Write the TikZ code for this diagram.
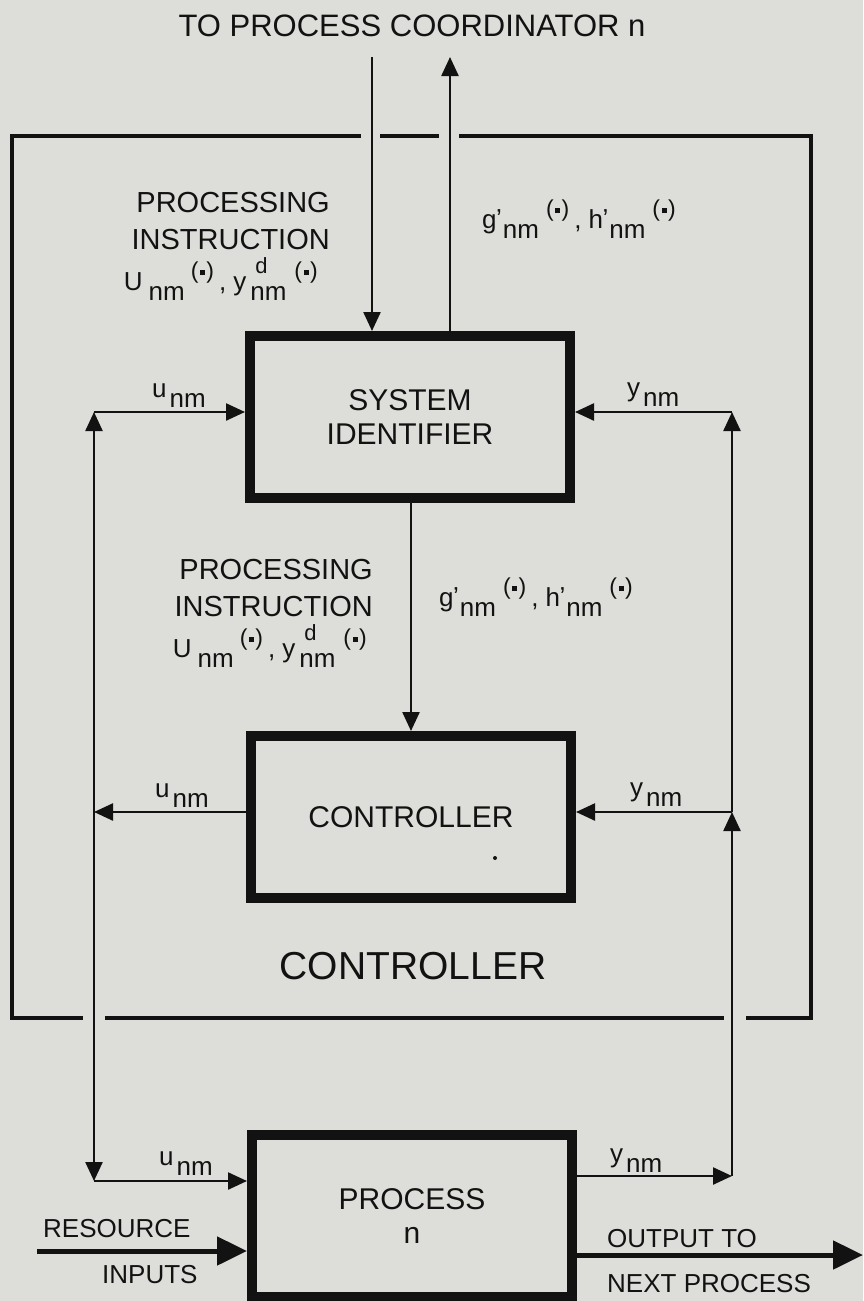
\documentclass[tikz,border=0pt]{standalone}
\usepackage{fontspec}
\setmainfont{Liberation Sans}
\usetikzlibrary{arrows.meta, positioning, calc}
\definecolor{papel}{RGB}{221,222,217}
\definecolor{tinta}{RGB}{18,18,18}

\newcommand{\bajo}[2][3pt]{\kern#1\raisebox{-10pt}{#2}}
\newcommand{\pto}[1][6pt]{\kern#1\smash{\raisebox{12pt}{\fontsize{23pt}{23pt}\selectfont(\kern1.5pt\rule[2.8pt]{5pt}{5pt}\kern1.5pt)}}}
\newcommand{\dsup}{\kern4pt\makebox[0pt][l]{\kern5pt\smash{\raisebox{17pt}{\fontsize{22pt}{22pt}\selectfont d}}}\raisebox{-10pt}{nm}}
\newcommand{\prima}{\kern-0.5pt\smash{\raisebox{1pt}{\textquoteright}}}
\newcommand{\coma}{\kern5pt,\kern7pt}

\begin{document}
\begin{tikzpicture}[x=1pt, y=-1pt,
    bloque/.style={
        rectangle,
        draw=tinta,
        line width=10pt,
        minimum width=320pt,
        minimum height=162pt,
        align=center,
        text=tinta,
        font=\fontsize{30pt}{34pt}\selectfont
    },
    flecha/.style={draw=tinta, line width=2.4pt, -{Triangle[length=19pt,width=17pt]}},
    gruesa/.style={draw=tinta, line width=5pt, -{Triangle[length=30pt,width=28pt]}},
    marco/.style={draw=tinta, line width=4pt},
    etiq/.style={inner sep=0pt, text=tinta, font=\fontsize{29pt}{34pt}\selectfont},
    senal/.style={inner sep=0pt, text=tinta, font=\fontsize{26pt}{28pt}\selectfont},
    pie/.style={inner sep=0pt, text=tinta, font=\fontsize{26pt}{30pt}\selectfont}
]
    \fill[papel] (0,0) rectangle (863,1301);
    \useasboundingbox (0,0) rectangle (863,1301);

    % bloques
    \node[bloque] (si) at (410,417) {SYSTEM\\IDENTIFIER};
    \node[bloque] (ctl) at (411,817) {CONTROLLER};
    \node[bloque] (proc) at (412,1216) {PROCESS\\n};
    \fill[tinta] (495,858) circle (2pt);

    % marco del controlador
    \draw[marco] (361,136) -- (12,136) -- (12,1018) -- (83,1018);
    \draw[marco] (380,136) -- (439,136);
    \draw[marco] (459,136) -- (811,136) -- (811,1018) -- (746,1018);
    \draw[marco] (105,1018) -- (724,1018);
    \node[inner sep=0pt, text=tinta, font=\fontsize{39pt}{44pt}\selectfont, anchor=base] (rotulo) at (413,979) {CONTROLLER};

    % coordinador
    \node[etiq, font=\fontsize{31pt}{34pt}\selectfont, anchor=base] (titulo) at (412,36) {TO PROCESS COORDINATOR n};
    \coordinate (bajada) at (372,57);
    \coordinate (subida) at (450,57);
    \draw[flecha] (bajada) -- (bajada |- si.north);
    \draw[flecha] (subida |- si.north) -- (subida);

    \node[etiq, anchor=base east] (pi1) at (330,212) {PROCESSING};
    \node[etiq, anchor=base east] (pi2) at (330,249) {INSTRUCTION};
    \node[senal, anchor=base east] (pi3) at (318,290) {U\bajo[6pt]{nm}\pto\coma y\dsup\pto[8pt]};
    \node[senal, anchor=base west] (gh1) at (482,228) {g\prima\bajo[1pt]{nm}\pto[7pt]\coma h\prima\bajo[1pt]{nm}\pto[7pt]};

    % entre identificador y controlador
    \draw[flecha] (ctl.north |- si.south) -- (ctl.north);
    \node[etiq, anchor=base east] (pc1) at (373,579) {PROCESSING};
    \node[etiq, anchor=base east] (pc2) at (373,616) {INSTRUCTION};
    \node[senal, anchor=base east] (pc3) at (367,657) {U\bajo[6pt]{nm}\pto\coma y\dsup\pto[8pt]};
    \node[senal, anchor=base west] (gh2) at (439,606) {g\prima\bajo[1pt]{nm}\pto[7pt]\coma h\prima\bajo[1pt]{nm}\pto[7pt]};

    % lazo u
    \coordinate (ua) at (94,412);
    \coordinate (ub) at (94,812);
    \coordinate (uc) at (94,1181);
    \draw[flecha] (ub -| ctl.west) -- (ub);
    \draw[flecha] (ub) -- (ua);
    \draw[flecha] (ua) -- (ua -| si.west);
    \draw[flecha] (ub) -- (uc);
    \draw[flecha] (uc) -- (uc -| proc.west);
    \node[senal, anchor=base west] (u1) at (152,397) {u\bajo{nm}};
    \node[senal, anchor=base west] (u2) at (155,797) {u\bajo{nm}};
    \node[senal, anchor=base west] (u3) at (159,1165) {u\bajo{nm}};

    % lazo y
    \coordinate (ya) at (732,412);
    \coordinate (yb) at (732,812);
    \coordinate (yc) at (732,1176);
    \draw[flecha] (yc -| proc.east) -- (yc);
    \draw[flecha] (yc) -- (yb);
    \draw[flecha] (yb) -- (yb -| ctl.east);
    \draw[flecha] (yb) -- (ya);
    \draw[flecha] (ya) -- (ya -| si.east);
    \node[senal, anchor=base west] (y1) at (627,396) {y\bajo{nm}};
    \node[senal, anchor=base west] (y2) at (630,796) {y\bajo{nm}};
    \node[senal, anchor=base west] (y3) at (610,1162) {y\bajo{nm}};

    % proceso
    \coordinate (rin) at (37,1251);
    \coordinate (rout) at (863,1255);
    \draw[gruesa] (rin) -- (rin -| proc.west);
    \draw[gruesa] (rout -| proc.east) -- (rout);
    \node[pie, anchor=base west] (rec1) at (43,1237) {RESOURCE};
    \node[pie, anchor=base west] (rec2) at (102,1283) {INPUTS};
    \node[pie, anchor=base west] (sal1) at (607,1247) {OUTPUT TO};
    \node[pie, anchor=base west] (sal2) at (607,1292) {NEXT PROCESS};
\end{tikzpicture}
\end{document}
